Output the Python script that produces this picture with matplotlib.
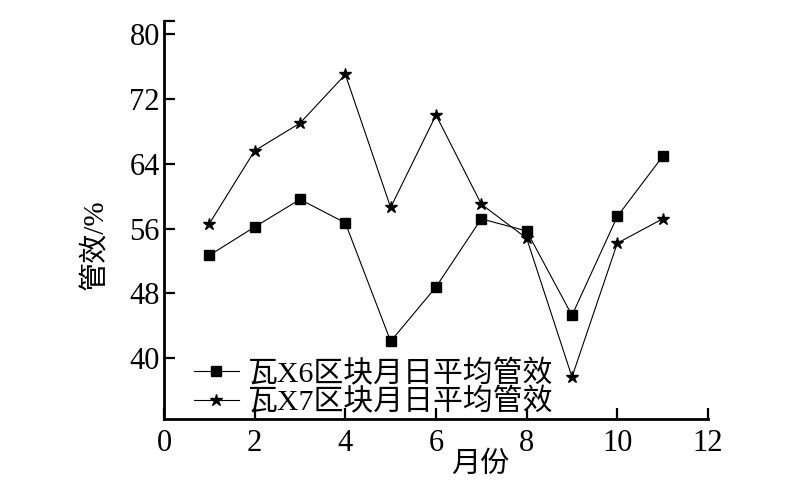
import numpy as np
import matplotlib.pyplot as plt

plt.rcParams['font.family'] = ['Liberation Serif', 'Noto Sans CJK SC']
plt.rcParams['axes.unicode_minus'] = False

months = [1, 2, 3, 4, 5, 6, 7, 8, 9, 10, 11]
# 瓦X6区块月日平均管效
wa_x6 = [52.7, 56.2, 59.6, 56.7, 42.1, 48.8, 57.2, 55.7, 45.3, 57.5, 64.9]
# 瓦X7区块月日平均管效
wa_x7 = [56.6, 65.6, 69.0, 75.0, 58.6, 70.0, 59.0, 54.8, 37.7, 54.2, 57.2]
labels = [u"瓦X6区块月日平均管效", u"瓦X7区块月日平均管效"]
xticks = [0, 2, 4, 6, 8, 10, 12]
yticks = [40, 48, 56, 64, 72, 80]

fig = plt.figure(figsize=(8, 4.99), dpi=100)
ax = fig.add_axes([0.205, 0.160, 0.68, 0.798])

ax.plot(months, wa_x6, color='black', lw=0.8, marker='s', ms=6.5, label=labels[0])
ax.plot(months, wa_x7, color='black', lw=0.8, marker='*', ms=9, label=labels[1])

ax.set_xlim(0, 12)
ax.set_ylim(32.5, 81.6)
ax.set_xticks(xticks)
ax.set_yticks(yticks)
ax.set_yticks([81.6], minor=True)
ax.tick_params(which='both', direction='in', length=8, width=1.6, labelsize=22)
ax.tick_params(axis='x', pad=7)
ax.tick_params(axis='y', pad=3)
for s in ['top', 'right']:
    ax.spines[s].set_visible(False)
for s in ['left', 'bottom']:
    ax.spines[s].set_linewidth(2)

fig.text(96 / 800, 1 - 245 / 499, u"管效/%", rotation=90, fontsize=21,
         ha='center', va='center')
fig.text(480 / 800, 1 - 465 / 499, u"月份", fontsize=21, ha='center', va='center')

ax.legend(loc='lower left', bbox_to_anchor=(194 / 800, 1 - 416 / 499),
          bbox_transform=fig.transFigure, frameon=False, fontsize=21.5,
          numpoints=1, handlelength=1.5, handletextpad=0.3, borderpad=0,
          borderaxespad=0, labelspacing=0.0)

plt.savefig("out.png", dpi=100)
